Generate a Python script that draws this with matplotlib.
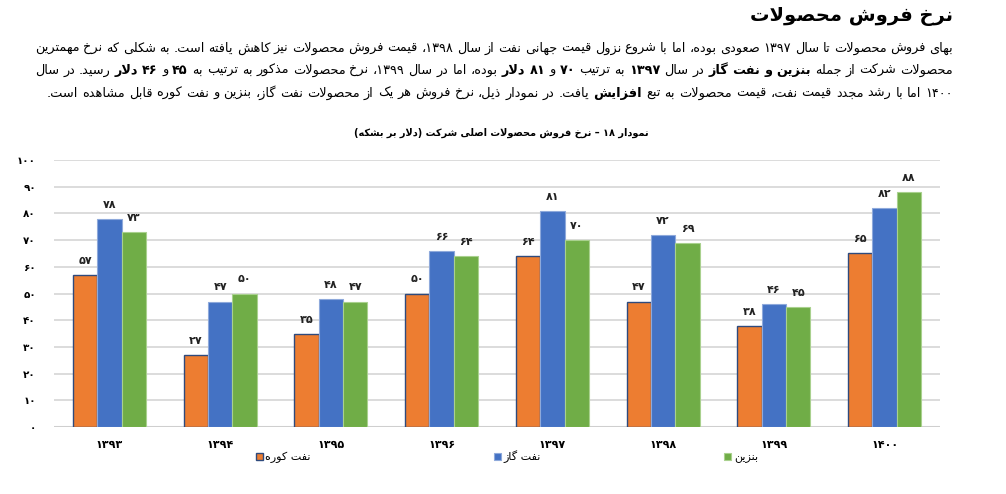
import matplotlib
matplotlib.use("Agg")
import matplotlib.pyplot as plt
import numpy as np

# ---------------- data ----------------
years = ["1393", "1394", "1395", "1396", "1397", "1398", "1399", "1400"]
fuel_oil = [57, 27, 35, 50, 64, 47, 38, 65]      # نفت کوره
gas_oil = [78, 47, 48, 66, 81, 72, 46, 82]       # نفت گاز
gasoline = [73, 50, 47, 64, 70, 69, 45, 88]      # بنزین
series_names = ["نفت کوره", "نفت گاز", "بنزین"]
y_ticks = [0, 10, 20, 30, 40, 50, 60, 70, 80, 90, 100]

main_title = "نرخ فروش محصولات"
chart_title = "نمودار ۱۸ – نرخ فروش محصولات اصلی شرکت (دلار بر بشکه)"
para_line1 = [("بهای فروش محصولات تا سال ۱۳۹۷ صعودی بوده، اما با شروع نزول قیمت جهانی نفت از سال ۱۳۹۸، قیمت فروش محصولات نیز کاهش یافته است. به شکلی که نرخ مهمترین", 0)]
para_line2 = [("محصولات شرکت از جمله", 0), ("بنزین و نفت گاز", 1), ("در سال", 0), ("۱۳۹۷", 1),
              ("به ترتیب", 0), ("۷۰", 1), ("و", 0), ("۸۱ دلار", 1),
              ("بوده، اما در سال ۱۳۹۹، نرخ محصولات مذکور به ترتیب به", 0), ("۴۵", 1), ("و", 0),
              ("۴۶ دلار", 1), ("رسید. در سال", 0)]
para_line3 = [("۱۴۰۰ اما با رشد مجدد قیمت نفت، قیمت محصولات به تبع", 0), ("افزایش", 1),
              ("یافت. در نمودار ذیل، نرخ فروش هر یک از محصولات نفت گاز، بنزین و نفت کوره قابل مشاهده است.", 0)]

# ---------------- Persian shaping helpers ----------------
FORMS = {
    '\u0621': ('\uFE80', None, None, None),
    '\u0622': ('\uFE81', '\uFE82', None, None),
    '\u0623': ('\uFE83', '\uFE84', None, None),
    '\u0624': ('\uFE85', '\uFE86', None, None),
    '\u0625': ('\uFE87', '\uFE88', None, None),
    '\u0626': ('\uFE89', '\uFE8A', '\uFE8B', '\uFE8C'),
    '\u0627': ('\uFE8D', '\uFE8E', None, None),
    '\u0628': ('\uFE8F', '\uFE90', '\uFE91', '\uFE92'),
    '\u0629': ('\uFE93', '\uFE94', None, None),
    '\u062A': ('\uFE95', '\uFE96', '\uFE97', '\uFE98'),
    '\u062B': ('\uFE99', '\uFE9A', '\uFE9B', '\uFE9C'),
    '\u062C': ('\uFE9D', '\uFE9E', '\uFE9F', '\uFEA0'),
    '\u062D': ('\uFEA1', '\uFEA2', '\uFEA3', '\uFEA4'),
    '\u062E': ('\uFEA5', '\uFEA6', '\uFEA7', '\uFEA8'),
    '\u062F': ('\uFEA9', '\uFEAA', None, None),
    '\u0630': ('\uFEAB', '\uFEAC', None, None),
    '\u0631': ('\uFEAD', '\uFEAE', None, None),
    '\u0632': ('\uFEAF', '\uFEB0', None, None),
    '\u0633': ('\uFEB1', '\uFEB2', '\uFEB3', '\uFEB4'),
    '\u0634': ('\uFEB5', '\uFEB6', '\uFEB7', '\uFEB8'),
    '\u0635': ('\uFEB9', '\uFEBA', '\uFEBB', '\uFEBC'),
    '\u0636': ('\uFEBD', '\uFEBE', '\uFEBF', '\uFEC0'),
    '\u0637': ('\uFEC1', '\uFEC2', '\uFEC3', '\uFEC4'),
    '\u0638': ('\uFEC5', '\uFEC6', '\uFEC7', '\uFEC8'),
    '\u0639': ('\uFEC9', '\uFECA', '\uFECB', '\uFECC'),
    '\u063A': ('\uFECD', '\uFECE', '\uFECF', '\uFED0'),
    '\u0641': ('\uFED1', '\uFED2', '\uFED3', '\uFED4'),
    '\u0642': ('\uFED5', '\uFED6', '\uFED7', '\uFED8'),
    '\u0643': ('\uFED9', '\uFEDA', '\uFEDB', '\uFEDC'),
    '\u0644': ('\uFEDD', '\uFEDE', '\uFEDF', '\uFEE0'),
    '\u0645': ('\uFEE1', '\uFEE2', '\uFEE3', '\uFEE4'),
    '\u0646': ('\uFEE5', '\uFEE6', '\uFEE7', '\uFEE8'),
    '\u0647': ('\uFEE9', '\uFEEA', '\uFEEB', '\uFEEC'),
    '\u0648': ('\uFEED', '\uFEEE', None, None),
    '\u064A': ('\uFEF1', '\uFEF2', '\uFEF3', '\uFEF4'),
    '\u067E': ('\uFB56', '\uFB57', '\uFB58', '\uFB59'),
    '\u0686': ('\uFB7A', '\uFB7B', '\uFB7C', '\uFB7D'),
    '\u0698': ('\uFB8A', '\uFB8B', None, None),
    '\u06A9': ('\uFB8E', '\uFB8F', '\uFB90', '\uFB91'),
    '\u06AF': ('\uFB92', '\uFB93', '\uFB94', '\uFB95'),
    '\u06CC': ('\uFBFC', '\uFBFD', '\uFBFE', '\uFBFF'),
}
LAMALEF = {'\u0627': ('\uFEFB', '\uFEFC'), '\u0622': ('\uFEF5', '\uFEF6'),
           '\u0623': ('\uFEF7', '\uFEF8'), '\u0625': ('\uFEF9', '\uFEFA')}


def shape(s):
    res = []
    prev_joins = False
    i, n = 0, len(s)
    while i < n:
        c = s[i]
        if c == '\u200c':
            prev_joins = False
            i += 1
            continue
        if c not in FORMS:
            res.append(c)
            prev_joins = False
            i += 1
            continue
        if c == '\u0644' and i + 1 < n and s[i + 1] in LAMALEF:
            lig = LAMALEF[s[i + 1]]
            res.append(lig[1] if prev_joins else lig[0])
            prev_joins = False
            i += 2
            continue
        nxt = s[i + 1] if i + 1 < n else ''
        iso, fin, ini, med = FORMS[c]
        can_next = ini is not None and nxt in FORMS
        if prev_joins and can_next:
            res.append(med)
        elif prev_joins:
            res.append(fin)
        elif can_next:
            res.append(ini)
        else:
            res.append(iso)
        prev_joins = ini is not None
        i += 1
    return ''.join(res)


MIRROR = {'(': ')', ')': '(', '[': ']', ']': '[', '«': '»', '»': '«'}


def fa(s):
    s = shape(s)
    runs = []
    for ch in s:
        ltr = ch.isdigit() or ('a' <= ch.lower() <= 'z')
        if runs and runs[-1][0] == ltr:
            runs[-1][1] += ch
        else:
            runs.append([ltr, ch])
    out = []
    for ltr, t in reversed(runs):
        out.append(t if ltr else ''.join(MIRROR.get(c, c) for c in reversed(t)))
    return ''.join(out)


def fa_num(v):
    return str(v).translate(str.maketrans('0123456789', '۰۱۲۳۴۵۶۷۸۹'))


# ---------------- figure ----------------
plt.rcParams['font.family'] = ['DejaVu Sans']
W, H = 1006, 494
fig = plt.figure(figsize=(W / 100, H / 100), dpi=100)
renderer = fig.canvas.get_renderer()


def fx(px):
    return px / W


def fy(py):
    return 1 - py / H


# main title
fig.text(fx(953), fy(16), fa(main_title), ha='right', va='center', fontsize=14, fontweight='bold')

# paragraph with word-level justification (right to left)
def words_of(line):
    out = []
    for seg, b in line:
        for w in seg.split(' '):
            if w:
                out.append((w, b))
    return out


def measure(words, fs):
    ws = []
    for w, b in words:
        t = fig.text(0, 0, fa(w), fontsize=fs, fontweight='bold' if b else 'normal')
        ws.append(t.get_window_extent(renderer).width)
        t.remove()
    return ws


right_px, left_px = 953, 35
target = right_px - left_px
lines = [(words_of(para_line1), True, 52), (words_of(para_line2), True, 74), (words_of(para_line3), False, 97)]
fs = 10.0
while fs > 6:
    ok = True
    for wl, just, _ in lines:
        ws = measure(wl, fs)
        sp = fs * 100 / 72 * 0.28
        if sum(ws) + sp * (len(ws) - 1) > target:
            ok = False
    if ok:
        break
    fs -= 0.25

for wl, just, ypx in lines:
    ws = measure(wl, fs)
    sp = fs * 100 / 72 * 0.32
    if just:
        gap = (target - sum(ws)) / (len(ws) - 1)
    else:
        gap = sp
    x = right_px
    for (w, b), wd in zip(wl, ws):
        fig.text(fx(x), fy(ypx), fa(w), ha='right', va='baseline', fontsize=fs,
                 fontweight='bold' if b else 'normal')
        x -= wd + gap

# chart title
fig.text(fx(501), fy(133), fa(chart_title), ha='center', va='center', fontsize=7, fontweight='bold')

# ---------------- axes ----------------
ax_l, ax_r, ax_t, ax_b = 54, 940, 160, 427
ax = fig.add_axes([fx(ax_l), fy(ax_b), (ax_r - ax_l) / W, (ax_b - ax_t) / H])

x = np.arange(len(years))
bw = 0.22
colors = ['#ED7D31', '#4472C4', '#70AD47']
edges = ['#2E4A7D', '#8EA9DB', '#A9D18E']
data = [fuel_oil, gas_oil, gasoline]
containers = []
for k, (vals, c, e, name) in enumerate(zip(data, colors, edges, series_names)):
    bc = ax.bar(x + (k - 1) * bw, vals, width=bw, color=c, edgecolor=e,
                linewidth=1.0 if k == 0 else 0.8, label=fa(name), zorder=3)
    containers.append(bc)
    ax.bar_label(bc, labels=[fa_num(v) for v in vals], padding=6.5, fontsize=8,
                 fontweight='bold', color='#222222')

ax.set_xlim(-0.5, len(years) - 0.5)
ax.set_ylim(0, 100)
ax.set_yticks(y_ticks)
ax.set_yticklabels([fa_num(v) for v in y_ticks], fontsize=7.5, fontweight='bold')
ax.set_xticks(x)
ax.set_xticklabels([fa_num(y) for y in years], fontsize=8, fontweight='bold')
ax.tick_params(axis='both', length=0)
ax.tick_params(axis='y', pad=13)
ax.tick_params(axis='x', pad=9)
ax.grid(axis='y', color='#D9D9D9', linewidth=1.3, zorder=0)
ax.axhline(0, color='#CFCFCF', linewidth=2.2, zorder=2)
for s in ax.spines.values():
    s.set_visible(False)

leg = ax.legend(handles=containers, loc='center', bbox_to_anchor=((507 - ax_l) / (ax_r - ax_l), -(457 - ax_b) / (ax_b - ax_t)),
                ncol=3, frameon=False, fontsize=8, handlelength=0.6, handleheight=0.6,
                handletextpad=0.25, columnspacing=16.5, borderaxespad=0)

fig.savefig('out.png', dpi=100)
